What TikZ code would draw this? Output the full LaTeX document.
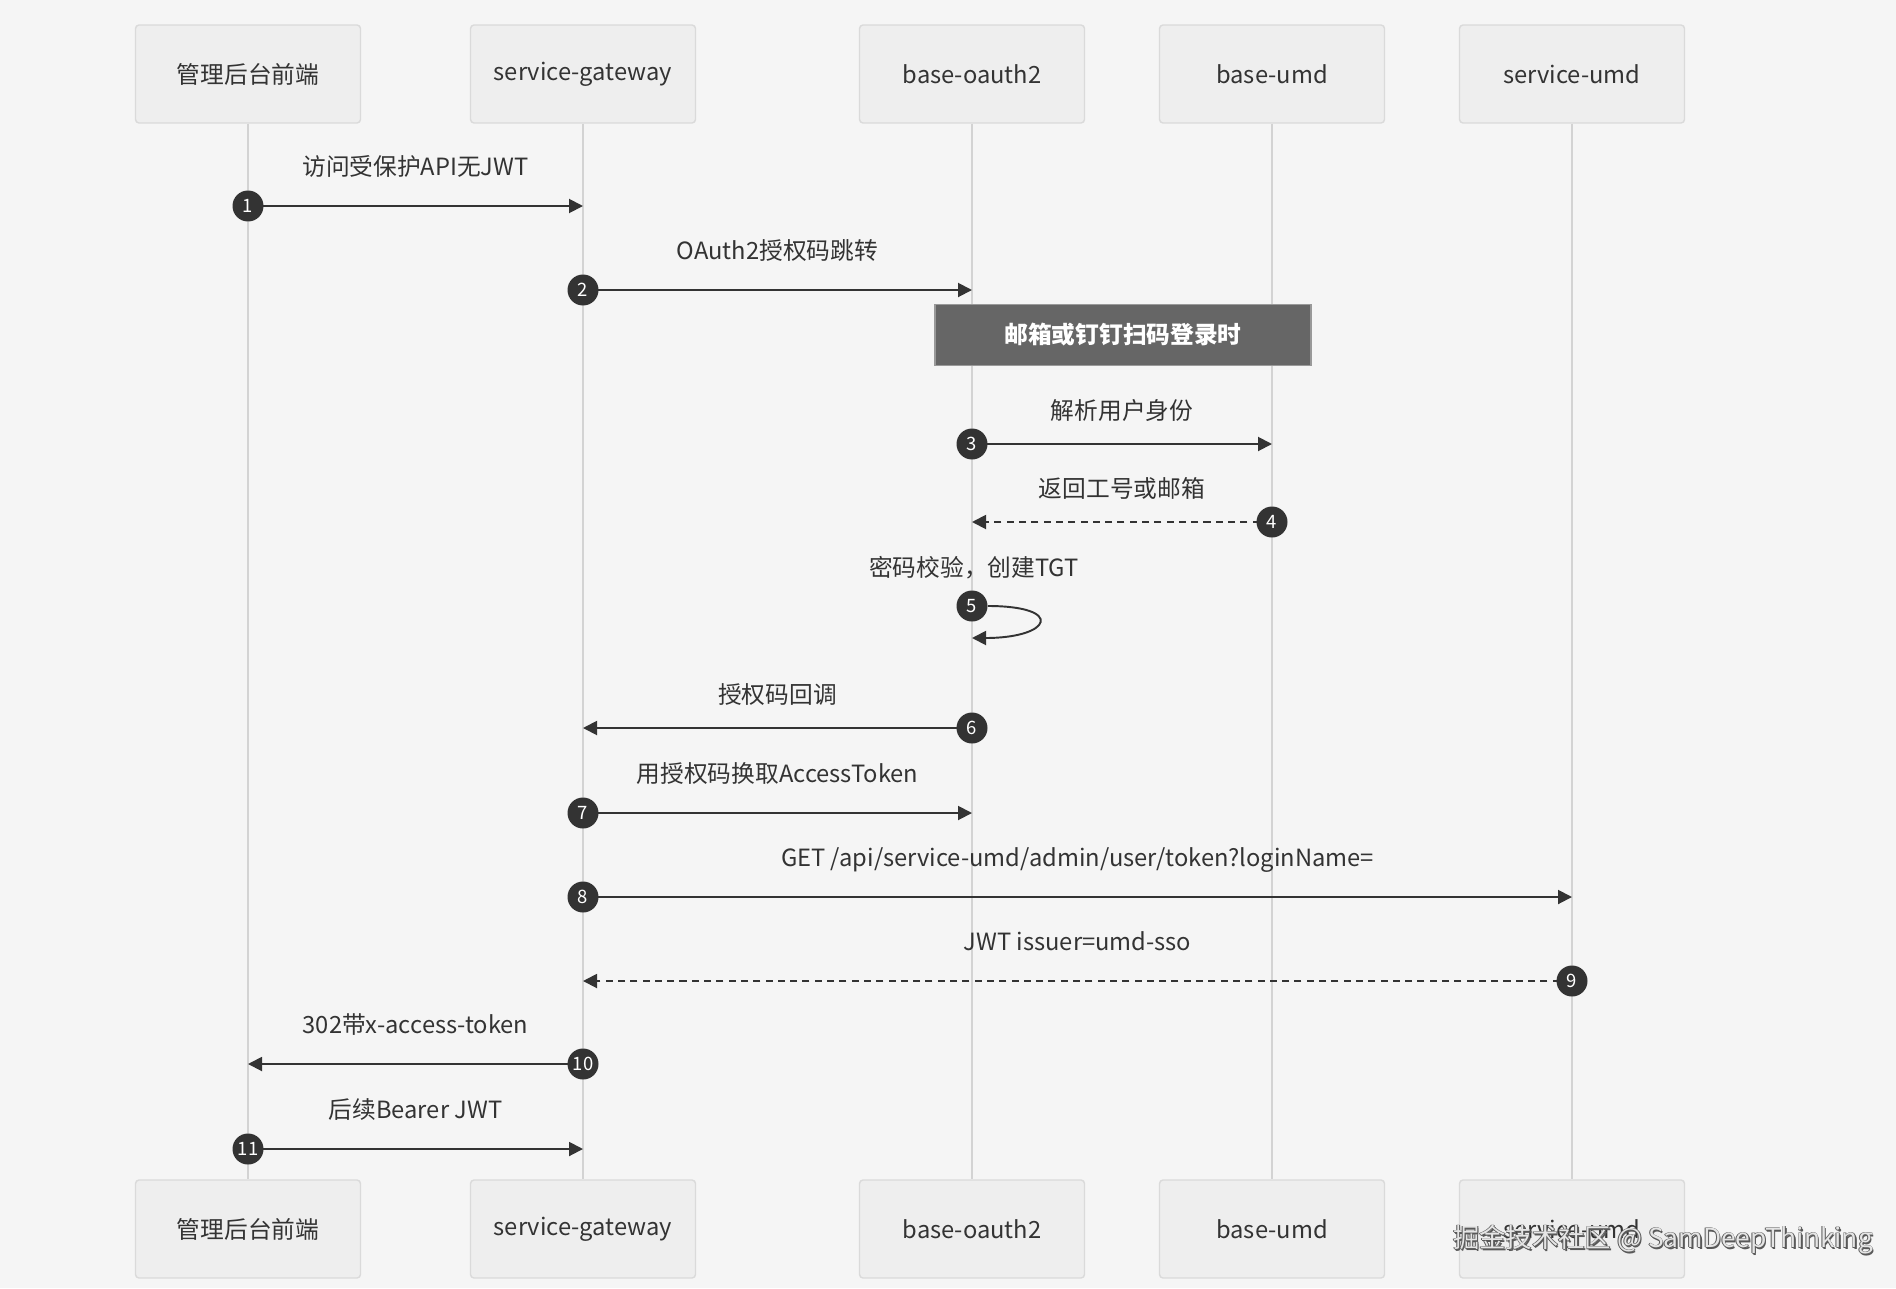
\documentclass[tikz,border=0pt]{standalone}
\usepackage{fontspec}
\setmainfont{Noto Sans CJK SC}
\usetikzlibrary{arrows.meta,calc}
\definecolor{bgcol}{HTML}{F5F5F5}
\definecolor{boxfill}{HTML}{EEEEEE}
\definecolor{boxline}{HTML}{DADADA}
\definecolor{lifecol}{HTML}{D3D3D3}
\definecolor{textcol}{HTML}{333333}
\definecolor{notefill}{HTML}{666666}
\pgfdeclarelayer{background}
\pgfsetlayers{background,main}
\tikzset{
   actor node/.style={rectangle,rounded corners=2pt,fill=boxfill,draw=boxline,line width=0.8pt,
                      minimum width=4.5cm,minimum height=1.96cm,text=textcol,font=\fontsize{13.5pt}{16pt}\selectfont},
   step node/.style={circle,fill=textcol,draw=none,inner sep=0pt,minimum size=0.62cm,
                     text=white,font=\fontsize{10.5pt}{11pt}\selectfont},
   note node/.style={rectangle,fill=notefill,draw=black!40,line width=0.8pt,minimum width=7.52cm,
                     minimum height=1.22cm,text=white,font=\fontsize{13.5pt}{16pt}\selectfont\bfseries},
   msg text/.style={text=textcol,font=\fontsize{13.5pt}{16pt}\selectfont},
   msg label/.style={msg text,midway,anchor=base,yshift=0.62cm},
   near label/.style={msg label,yshift=-0.12cm},
   lifeline/.style={draw=lifecol,line width=1.2pt},
   msg/.style={->,draw=textcol,line width=1.1pt},
   reply/.style={msg,dash pattern=on 4pt off 3pt}
}

\begin{document}
\begin{tikzpicture}[x=0.02cm,y=-0.02cm,>={Triangle[length=0.28cm,width=0.28cm]}]
% actors (top)
\node[actor node] (fe) at (248,74) {管理后台前端};
\node[actor node] (gw) at (583,74) {service-gateway};
\node[actor node] (oa) at (972,74) {base-oauth2};
\node[actor node] (bu) at (1272,74) {base-umd};
\node[actor node] (su) at (1572,74) {service-umd};

% actors (bottom)
\node[actor node] (fe b) at (248,1229) {管理后台前端};
\node[actor node] (gw b) at (583,1229) {service-gateway};
\node[actor node] (oa b) at (972,1229) {base-oauth2};
\node[actor node] (bu b) at (1272,1229) {base-umd};
\node[actor node] (su b) at (1572,1229) {service-umd};

% note
\node[note node] (note) at (1123,335) {邮箱或钉钉扫码登录时};

% steps
\node[step node] (s1) at (248,206) {1};
\node[step node] (s2) at (583,290) {2};
\node[step node] (s3) at (972,444) {3};
\node[step node] (s4) at (1272,522) {4};
\node[step node] (s5) at (972,606) {5};
\node[step node] (s6) at (972,728) {6};
\node[step node] (s7) at (583,813) {7};
\node[step node] (s8) at (583,897) {8};
\node[step node] (s9) at (1572,981) {9};
\node[step node] (s10) at (583,1064) {10};
\node[step node] (s11) at (248,1149) {11};
\node[msg text,anchor=base] (l5) at (974,576) {密码校验，创建TGT};

\begin{pgfonlayer}{background}
\fill[bgcol] (0,0) rectangle (1896,1288);
\path[lifeline] (fe) -- (fe b) (gw) -- (gw b) (oa) -- (oa b) (bu) -- (bu b) (su) -- (su b);

\draw[msg] (s1.center) -- node[msg label] {访问受保护API无JWT} (s1 -| gw);
\draw[msg] (s2.center) -- node[msg label] {OAuth2授权码跳转} (s2 -| oa);
\draw[msg] (s3.center) -- node[near label] {解析用户身份} (s3 -| bu);
\draw[reply] (s4.center) -- node[near label] {返回工号或邮箱} (s4 -| oa);
\draw[msg] (s5.east) .. controls +(1.55cm,0) and +(1.6cm,0) .. ($(s5.center)+(0,32)$);
\draw[msg] (s6.center) -- node[near label] {授权码回调} (s6 -| gw);
\draw[msg] (s7.center) -- node[msg label] {用授权码换取AccessToken} (s7 -| oa);
\draw[msg] (s8.center) -- node[msg label] {GET /api/service-umd/admin/user/token?loginName=} (s8 -| su);
\draw[reply] (s9.center) -- node[msg label] {JWT issuer=umd-sso} (s9 -| gw);
\draw[msg] (s10.center) -- node[msg label] {302带x-access-token} (s10 -| fe);
\draw[msg] (s11.center) -- node[msg label] {后续Bearer JWT} (s11 -| gw);
\end{pgfonlayer}

% watermark
\foreach \dx/\dy [count=\i] in {1.5/1.5,-0.8/0,0.8/0,0/-0.8,0/0.8}
  \node[text=black!65,font=\fontsize{15pt}{18pt}\selectfont] (wm\i) at (1663+\dx,1240+\dy) {掘金技术社区 @ SamDeepThinking};
\node[text=white!90!black,font=\fontsize{15pt}{18pt}\selectfont] (wm) at (1663,1240) {掘金技术社区 @ SamDeepThinking};
\end{tikzpicture}
\end{document}
